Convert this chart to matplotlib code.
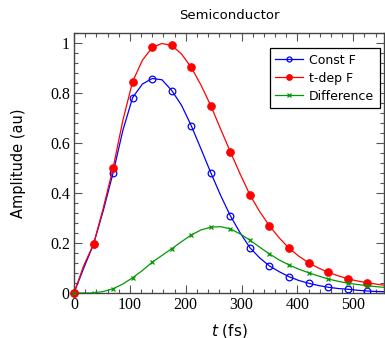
import matplotlib
matplotlib.use("Agg")
import matplotlib.pyplot as plt
from matplotlib.ticker import MultipleLocator
from matplotlib.lines import Line2D

plt.rcParams["font.family"] = ["Liberation Serif", "DejaVu Serif"]
plt.rcParams["mathtext.fontset"] = "dejavusans"

# time samples (fs), every 17.5 fs; markers on every second sample
t_fs = [0, 17.5, 35, 52.5, 70, 87.5, 105, 122.5, 140, 157.5, 175, 192.5, 210,
        227.5, 245, 262.5, 280, 297.5, 315, 332.5, 350, 367.5, 385, 402.5,
        420, 437.5, 455, 472.5, 490, 507.5, 525, 542.5, 560]

const_f = [0.0, 0.10, 0.195, 0.33, 0.48, 0.65, 0.781, 0.835, 0.857, 0.852,
           0.809, 0.75, 0.668, 0.575, 0.48, 0.39, 0.308, 0.24, 0.181, 0.14,
           0.108, 0.085, 0.065, 0.05, 0.039, 0.03, 0.023, 0.018, 0.015,
           0.011, 0.008, 0.006, 0.005]

tdep_f = [0.0, 0.11, 0.195, 0.34, 0.50, 0.69, 0.845, 0.93, 0.981, 0.997,
          0.989, 0.955, 0.901, 0.83, 0.748, 0.655, 0.564, 0.475, 0.392,
          0.325, 0.268, 0.22, 0.179, 0.147, 0.121, 0.10, 0.083, 0.069,
          0.057, 0.048, 0.041, 0.035, 0.030]

difference = [0.0, 0.0, 0.0, 0.006, 0.017, 0.036, 0.061, 0.09, 0.123, 0.15,
              0.177, 0.205, 0.232, 0.252, 0.263, 0.265, 0.256, 0.236, 0.211,
              0.183, 0.156, 0.132, 0.112, 0.095, 0.081, 0.068, 0.056, 0.047,
              0.039, 0.034, 0.029, 0.025, 0.022]

labels = ["Const F", "t-dep F", "Difference"]
x_ticks = [0, 100, 200, 300, 400, 500]
y_ticks = [0, 0.2, 0.4, 0.6, 0.8, 1]
y_tick_labels = ["0", "0.2", "0.4", "0.6", "0.8", "1"]

W, H = 385, 338
fig = plt.figure(figsize=(W / 100, H / 100), dpi=100)
ax = fig.add_axes([74 / W, 45 / H, 310 / W, 260.3 / H])

mk_idx = list(range(0, 31, 2))

styles = [
    dict(color="#0000ff", marker="o", mfc="none", mec="#0000ff", ms=4.8, mew=0.9),
    dict(color="#ff0000", marker="o", mfc="#ff0000", mec="#ff0000", ms=5.4, mew=0.8),
    dict(color="#009900", marker="x", mfc="#009900", mec="#009900", ms=3.4, mew=0.9),
]
series = [const_f, tdep_f, difference]

for ys, st in zip(series, styles):
    ax.plot(t_fs, ys, lw=0.9, markevery=mk_idx, zorder=3, **st)
# origin markers drawn unclipped on the axes corner
for ys, st in zip(series, styles):
    ax.plot(t_fs[:1], ys[:1], lw=0, clip_on=False, zorder=4, **st)

ax.set_xlim(0, 555)
ax.set_ylim(0, 1.04)
ax.set_xticks(x_ticks)
ax.set_yticks(y_ticks)
ax.set_yticklabels(y_tick_labels)
ax.xaxis.set_minor_locator(MultipleLocator(20))
ax.yaxis.set_minor_locator(MultipleLocator(0.04))
ax.tick_params(which="both", direction="in", top=True, right=True,
               color="#555555", width=0.8)
ax.tick_params(which="major", length=6, labelsize=11.5, pad=3)
ax.tick_params(which="minor", length=3)
for sp in ax.spines.values():
    sp.set_color("#444444")
    sp.set_linewidth(1.0)

ax.set_title("Semiconductor", fontsize=9.5, family="DejaVu Sans", pad=10)
ax.set_ylabel("Amplitude (au)", fontsize=10.5, family="DejaVu Sans", labelpad=17)
ax.set_xlabel(r"$t$ (fs)", fontsize=11, family="DejaVu Sans", labelpad=6)

handles = [Line2D([], [], lw=0.9, **st) for st in styles]
leg = ax.legend(handles, labels, loc="upper right", bbox_to_anchor=(0.995, 0.95),
                prop={"family": "DejaVu Sans", "size": 9},
                frameon=True, fancybox=False, framealpha=1,
                edgecolor="black", handlelength=2.2, handletextpad=0.5,
                borderpad=0.45, labelspacing=0.4, borderaxespad=0.2,
                markerscale=0.75)
leg.get_frame().set_linewidth(0.9)
leg.set_zorder(5)

fig.savefig("out.png", dpi=100)
